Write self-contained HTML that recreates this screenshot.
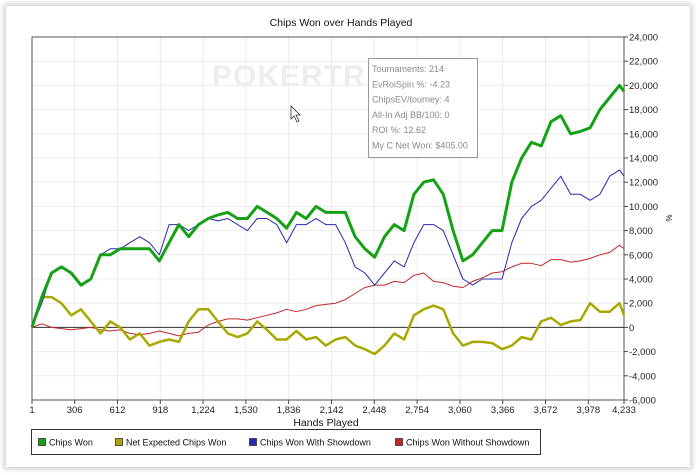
<!DOCTYPE html>
<html><head><meta charset="utf-8"><style>
body{margin:0;background:#fff;width:700px;height:475px;overflow:hidden;font-family:"Liberation Sans",Arial,sans-serif}
#card{position:absolute;left:6px;top:6px;width:684px;height:461px;background:#fff;box-shadow:0 0 5px 2px #ccc}
svg{position:absolute;left:0;top:0}
</style></head><body>
<div id="card"></div>
<svg id="chart" width="700" height="475"></svg>
<script>
const hands=[1,71,141,211,281,351,421,491,561,631,701,771,841,911,981,1051,1121,1191,1261,1331,1401,1471,1541,1611,1681,1751,1821,1891,1961,2031,2101,2171,2241,2311,2381,2451,2521,2591,2661,2731,2801,2871,2941,3011,3081,3151,3221,3291,3361,3431,3501,3571,3641,3711,3781,3851,3921,3991,4061,4131,4201,4233];
const chipsWon=[0,2.5,4.5,5,4.5,3.5,4,6,6,6.5,6.5,6.5,6.5,5.5,7,8.5,7.5,8.5,9,9.3,9.5,9,9,10,9.5,9,8.2,9.5,9,10,9.5,9.5,9.5,7.5,6.5,5.8,7.5,8.5,8,11,12,12.2,11,8,5.5,6,7,8,8,12,14,15.3,15,17,17.5,16,16.2,16.5,18,19,20,19.5];
const netExpected=[0,2.5,2.5,2,1,1.5,0.5,-0.5,0.5,0,-1,-0.5,-1.5,-1.2,-1,-1.2,0.5,1.5,1.5,0.5,-0.5,-0.8,-0.5,0.5,-0.2,-1,-1,-0.3,-1,-0.8,-1.5,-1,-0.8,-1.5,-1.8,-2.2,-1.5,-0.5,-1,1,1.5,1.8,1.5,-0.5,-1.5,-1.2,-1.2,-1.3,-1.8,-1.5,-0.8,-1,0.5,0.8,0.2,0.5,0.6,2,1.3,1.3,2,1];
const withShowdown=[0,2,4.5,5,4.5,3.5,4,6,6.5,6.5,7,7.5,7,6,8.5,8.5,8,8.5,9,8.8,9,8.5,8,9,9,8.5,7,8.5,8.5,9,8.5,8.5,7,5,4.5,3.5,4.5,5.5,5,7,8.5,8.5,8,6,4,3.5,4,4,4,7,9,10,10.5,11.5,12.5,11,11,10.5,11,12.5,13,12.5];
const withoutShowdown=[0,0.3,0,-0.1,-0.2,-0.1,0,-0.2,-0.3,-0.2,-0.5,-0.6,-0.5,-0.3,-0.5,-0.7,-0.5,-0.4,0.2,0.5,0.7,0.7,0.6,0.8,1,1.2,1.5,1.3,1.5,1.8,1.9,2,2.3,2.8,3.3,3.5,3.5,3.8,3.7,4.3,4.5,3.8,3.7,3.4,3.3,3.8,4.1,4.5,4.6,5,5.3,5.3,5.1,5.6,5.6,5.4,5.5,5.7,6,6.2,6.8,6.5];
const xTicks=[1,306,612,918,1224,1530,1836,2142,2448,2754,3060,3366,3672,3978,4233];
const xTickLabels=["1","306","612","918","1,224","1,530","1,836","2,142","2,448","2,754","3,060","3,366","3,672","3,978","4,233"];
const yTicks=[24,22,20,18,16,14,12,10,8,6,4,2,0,-2,-4,-6];
const yTickLabels=["24,000","22,000","20,000","18,000","16,000","14,000","12,000","10,000","8,000","6,000","4,000","2,000","0","-2,000","-4,000","-6,000"];

const L=32,R=624,T=37,B=400;
const X=h=>L+(h-1)/(4233-1)*(R-L);
const Y=v=>T+(24-v)/30*(B-T);
const svg=document.getElementById('chart');
const NS='http://www.w3.org/2000/svg';
function mk(tag,attrs,parent){const e=document.createElementNS(NS,tag);for(const k in attrs)e.setAttribute(k,attrs[k]);(parent||svg).appendChild(e);return e;}

xTicks.forEach((t,i)=>{
  const g=mk('line',{x1:X(t),x2:X(t),y1:T,y2:B,stroke:'#ececec','stroke-width':1});
  
  
  const tk=mk('line',{x1:X(t),x2:X(t),y1:B,y2:B+4,stroke:'#444'});
  
  
  const tx=mk('text',{x:X(t),y:B+13,'font-size':9.5,'text-anchor':'middle',fill:'#222'});
  tx.textContent=xTickLabels[i];
  
  
});
yTicks.forEach((t,i)=>{
  const g=mk('line',{x1:L,x2:R,y1:Y(t),y2:Y(t),stroke:'#ececec','stroke-width':1});
  
  
  const tk=mk('line',{x1:R,x2:R+4,y1:Y(t),y2:Y(t),stroke:'#444'});
  
  
  const tx=mk('text',{x:R+5,y:Y(t)+3.5,'font-size':9.5,fill:'#222'});
  tx.textContent=yTickLabels[i];
  
  
});
const wm=mk('text',{x:212,y:86,'font-size':30,'font-weight':'bold',fill:'#ededed','letter-spacing':1});
wm.textContent='POKERTRACKER';


const fr=mk('path',{d:`M${L},${B} L${L},${T} L${R},${T} L${R},${B} L${L},${B}`,fill:'none',stroke:'#555','stroke-width':1});


const zl=mk('line',{x1:L,x2:R,y1:Y(0),y2:Y(0),stroke:'#333','stroke-width':1});



function series(vals,color,w,name){
  const d=vals.map((v,i)=>(i?'L':'M')+X(hands[i]).toFixed(1)+','+Y(v).toFixed(1)).join(' ');
  const p=mk('path',{d:d,fill:'none',stroke:color,'stroke-width':w,'stroke-linejoin':'round'});
  
  
}
series(withoutShowdown,'#c0282a',1,'series-chips-won-without-showdown');
series(netExpected,'#a8a800',2.5,'series-net-expected-chips-won');
series(withShowdown,'#2a2ab0',1,'series-chips-won-with-showdown');
series(chipsWon,'#16a016',3,'series-chips-won');

const ti=mk('text',{x:341,y:26,'font-size':10.5,'text-anchor':'middle',fill:'#111'});
ti.textContent='Chips Won over Hands Played';


const xt=mk('text',{x:326,y:426,'font-size':10.5,'text-anchor':'middle',fill:'#111'});
xt.textContent='Hands Played';


const yt=mk('text',{x:666,y:218,'font-size':8,'text-anchor':'middle',fill:'#111',transform:'rotate(90 666 218)'});
yt.textContent='%';



const sb=mk('g',{});


mk('rect',{x:368.5,y:58.5,width:109,height:99,fill:'#fff',stroke:'#999'},sb);
['Tournaments: 214','EvRoiSpin %: -4.23','ChipsEV/tourney: 4','All-In Adj BB/100: 0','ROI %: 12.62','My C Net Won: $405.00'].forEach((s,i)=>{
  const t=mk('text',{x:372,y:72+i*15.3,'font-size':9,fill:'#8a8a8a'},sb);
  t.textContent=s;
  
  
});
const cu=mk('path',{d:'M291,106 L291,119 L294,116 L297,122 L299,121 L296,115 L300,115 Z',fill:'#fff',stroke:'#333','stroke-width':0.8});



const lg=mk('g',{});


mk('rect',{x:31.5,y:429.5,width:509,height:25,fill:'#fff',stroke:'#333'},lg);
[['Chips Won','#16a016',38],['Net Expected Chips Won','#a8a800',115],['Chips Won With Showdown','#2a2ab0',249],['Chips Won Without Showdown','#c0282a',395]].forEach(e=>{
  const g=mk('g',{},lg);
  
  
  mk('rect',{x:e[2]+0.5,y:438.5,width:7,height:7,fill:e[1],stroke:'#333','stroke-width':0.8},g);
  const t=mk('text',{x:e[2]+11,y:445.5,'font-size':9,fill:'#111'},g);
  t.textContent=e[0];
});
</script>
</body></html>
